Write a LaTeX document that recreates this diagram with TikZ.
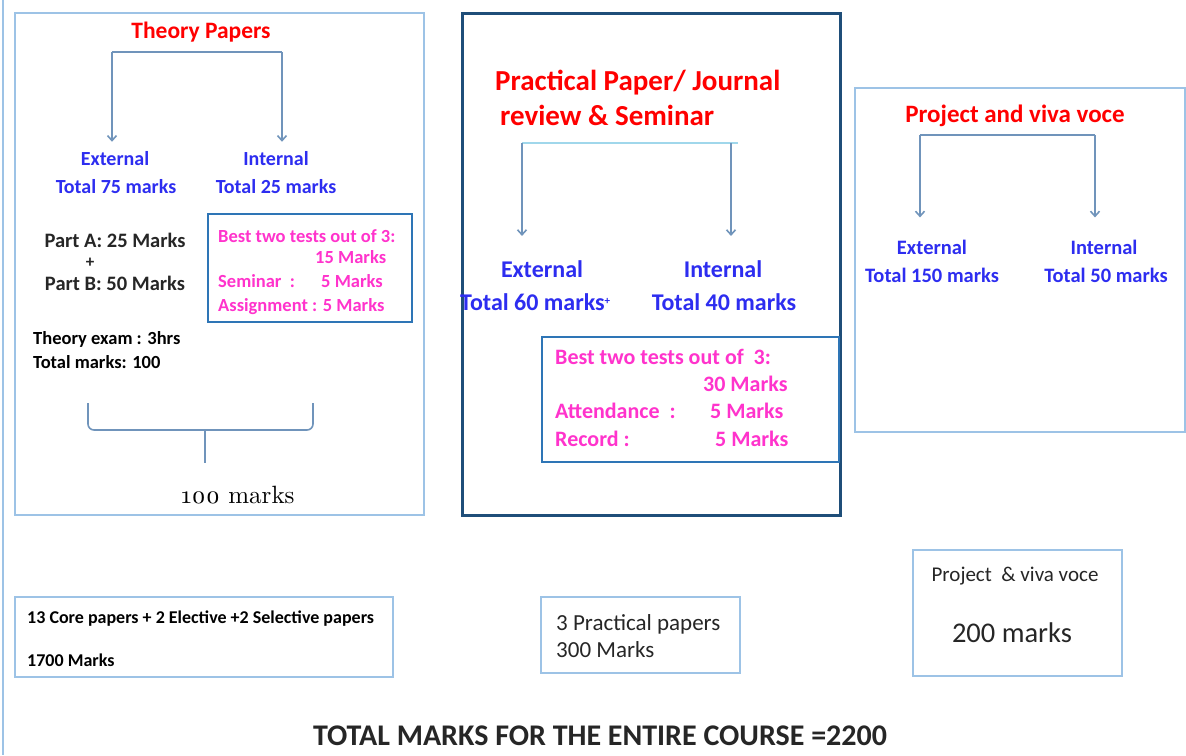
\documentclass[tikz,border=0pt]{standalone}
\usepackage{fontspec}
\setmainfont{Carlito}
\newfontfamily\oldroman{lmroman10-regular.otf}[Numbers=OldStyle]
\usetikzlibrary{arrows.meta}

\definecolor{paleblue}{RGB}{157,195,230}
\definecolor{deepblue}{RGB}{31,78,121}
\definecolor{midblue}{RGB}{46,117,182}
\definecolor{steel}{RGB}{112,148,187}
\definecolor{cyanline}{RGB}{160,215,235}
\definecolor{headred}{RGB}{255,0,0}
\definecolor{splitblue}{RGB}{45,45,240}
\definecolor{pinktext}{RGB}{255,51,204}

\newcommand{\fsz}[1]{\fontsize{#1}{#1}\selectfont}

\tikzset{
  panel/.style={draw=paleblue,line width=2pt},
  heavypanel/.style={draw=deepblue,line width=3pt},
  subpanel/.style={draw=midblue,line width=2.6pt},
  txt/.style={inner sep=0pt,anchor=base},
  ltxt/.style={inner sep=0pt,anchor=base west},
  head/.style={txt,text=headred,font=\bfseries\fsz{#1}},
  split/.style={txt,text=splitblue,font=\bfseries\fsz{#1}},
  note/.style={ltxt,text=pinktext,font=\bfseries\fsz{#1}},
  plain/.style={txt,text=black!85,font=\bfseries\fsz{#1}},
  link/.style={draw=steel,line width=1.6pt},
  linkarrow/.style={link,-{Straight Barb[length=5pt,width=9pt]}}
}

\begin{document}
\begin{tikzpicture}[x=1pt,y=-1pt]
\useasboundingbox (0,0) rectangle (1186,755);
\fill[white] (0,0) rectangle (1186,755);
\draw[paleblue,line width=1.5pt] (3,0) -- (3,755);

% theory papers
\draw[panel] (15,13) rectangle (424,515);
\node (theory) at (201,38) [head=23.5] {Theory Papers};
\coordinate (tl) at (112,52);
\coordinate (tr) at (282,52);
\node (text) at (115,165) [split=20] {External};
\node (textt) at (116,193) [split=20] {Total 75 marks};
\node (tint) at (276,165) [split=20] {Internal};
\node (tintt) at (276,193) [split=20] {Total 25 marks};
\draw[link] (tl) -- (tr);
\draw[linkarrow,shorten >=9pt] (tl) -- (tl |- text.north);
\draw[linkarrow,shorten >=9pt] (tr) -- (tr |- tint.north);

\node (parta) at (115,247) [plain=20.5] {Part A: 25 Marks};
\node (plus) at (90,267) [plain=17] {+};
\node (partb) at (115,290) [plain=20.5] {Part B: 50 Marks};

\draw[subpanel] (208,214) rectangle (412,322);
\node (tbest) at (218,242) [note=18.5] {Best two tests out of 3:};
\node (tbestm) at (315,263) [note=18.5] {15 Marks};
\node (tsem) at (218,287) [note=18.5] {Seminar\ \ :};
\node (tsemm) at (321,287) [note=18.5] {5 Marks};
\node (tass) at (218,311) [note=18.5] {Assignment : 5 Marks};

\node (texam) at (33,344) [ltxt,font=\bfseries\fsz{18.5}] {Theory exam : 3hrs};
\node (ttotal) at (33,368) [ltxt,font=\bfseries\fsz{18.5}] {Total marks: 100};

\draw[link,rounded corners=6pt] (88,403) -- (88,430) -- (313,430) -- (313,403);
\coordinate (brace) at (205,430);
\node (hundred) at (238,503) [txt,text=black,font=\oldroman\fsz{25}] {100 marks};
\draw[link,shorten >=22pt] (brace) -- (brace |- hundred.north);

% practical papers
\draw[heavypanel] (462,13) rectangle (840,515);
\node (prac) at (495,90) [ltxt,text=headred,font=\bfseries\fsz{29}] {Practical Paper/ Journal};
\node (prac2) at (500,125) [ltxt,text=headred,font=\bfseries\fsz{29}] {review \& Seminar};
\coordinate (pl) at (522,143);
\coordinate (pr) at (731,143);
\coordinate (pend) at (738,143);
\node (pext) at (542,277) [split=24] {External};
\node (pextt) at (460,310) [ltxt,text=splitblue,font=\bfseries\fsz{24}] {Total 60 marks\raisebox{6pt}{\fsz{11}+}};
\node (pint) at (723,277) [split=24] {Internal};
\node (pintt) at (724,310) [split=24] {Total 40 marks};
\draw[cyanline,line width=1.2pt] (pl) -- (pend);
\draw[linkarrow,shorten >=24pt] (pl) -- (pl |- pext.north);
\draw[linkarrow,shorten >=24pt] (pr) -- (pr |- pint.north);

\draw[subpanel] (542,337) rectangle (839,462);
\node (pbest) at (555,364) [note=22] {Best two tests out of\ \ 3:};
\node (pbestm) at (703,391) [note=22] {30 Marks};
\node (patt) at (555,418) [note=22] {Attendance\ \ :};
\node (pattm) at (710,418) [note=22] {5 Marks};
\node (prec) at (555,446) [note=22] {Record :};
\node (precm) at (715,446) [note=22] {5 Marks};

% project and viva voce
\draw[panel] (855,88) rectangle (1185,432);
\node (proj) at (1015,122) [head=25] {Project and viva voce};
\coordinate (jl) at (920,135);
\coordinate (jr) at (1095,135);
\node (jext) at (932,254) [split=20.5] {External};
\node (jextt) at (932,282) [split=20.5] {Total 150 marks};
\node (jint) at (1104,254) [split=20.5] {Internal};
\node (jintt) at (1106,282) [split=20.5] {Total 50 marks};
\draw[link] (jl) -- (jr);
\draw[linkarrow,shorten >=22pt] (jl) -- (jl |- jext.north);
\draw[linkarrow,shorten >=22pt] (jr) -- (jr |- jint.north);

% summary boxes
\draw[panel] (15,597) rectangle (393,677);
\node (core) at (27,623) [ltxt,font=\bfseries\fsz{18}] {13 Core papers + 2 Elective +2 Selective papers};
\node (corem) at (27,666) [ltxt,font=\bfseries\fsz{18}] {1700 Marks};

\draw[panel] (541,597) rectangle (740,673);
\node (pracs) at (556,630) [ltxt,text=black!85,font=\fsz{23}] {3 Practical papers};
\node (pracm) at (556,657) [ltxt,text=black!85,font=\fsz{23}] {300 Marks};

\draw[panel] (913,550) rectangle (1122,676);
\node (projs) at (1015,581) [txt,text=black!85,font=\fsz{21}] {Project\ \ \& viva voce};
\node (projm) at (1012,642) [txt,text=black!85,font=\fsz{28.5}] {200 marks};

\node (grand) at (600,745) [plain=30] {TOTAL MARKS FOR THE ENTIRE COURSE =2200};
\end{tikzpicture}
\end{document}
